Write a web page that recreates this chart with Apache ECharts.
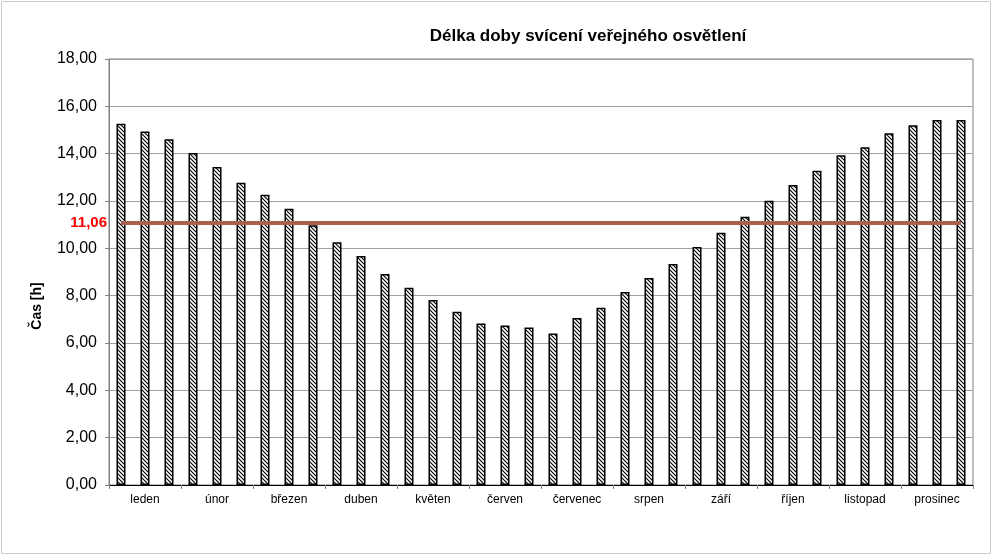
<!DOCTYPE html>
<html><head><meta charset="utf-8">
<script src="https://cdn.jsdelivr.net/npm/echarts@6/dist/echarts.min.js"></script>
<style>html,body{margin:0;padding:0;background:#fff}#c{width:994px;height:557px}</style>
</head><body><div id="c"></div>
<script>
const months = ['leden','únor','březen','duben','květen','červen','červenec','srpen','září','říjen','listopad','prosinec'];
const decades = ['1.','11.','21.'];
const hours = [15.26,14.94,14.61, 14.03,13.44,12.77, 12.26,11.67,10.98, 10.26,9.68,8.92,
               8.33,7.82,7.32, 6.82,6.74,6.66, 6.40,7.06,7.49, 8.16,8.75,9.34,
               10.06,10.66,11.33, 12.01,12.68,13.28, 13.93,14.27,14.86, 15.20,15.42,15.42];
const average = 11.06;
const yTicks = {min:0, max:18, interval:2};
const title = 'Délka doby svícení veřejného osvětlení';
const yName = 'Čas [h]';

const barCats = [];
months.forEach(m => decades.forEach(d => barCats.push(d + ' ' + m)));

// hatch pattern
const pc = document.createElement('canvas');
pc.width = 4; pc.height = 4;
const g = pc.getContext('2d');
g.fillStyle = '#fff'; g.fillRect(0,0,4,4);
g.strokeStyle = '#000'; g.lineWidth = 1.1;
g.beginPath();
g.moveTo(-1,-1); g.lineTo(5,5);
g.moveTo(-1,3); g.lineTo(1,5);
g.moveTo(3,-1); g.lineTo(5,1);
g.stroke();

const fmt = v => v.toFixed(2).replace('.', ',');
const FF = 'Liberation Sans, Arial, sans-serif';
const chart = echarts.init(document.getElementById('c'), null, {renderer:'canvas'});
chart.setOption({
  animation:false,
  backgroundColor:'#fff',
  textStyle:{fontFamily:FF},
  title:{text:title, left:583, top:23, textAlign:'center',
    textStyle:{fontSize:17, fontWeight:'bold', color:'#000', fontFamily:FF}},
  grid:{left:109, right:21, top:59, bottom:72, show:true, borderColor:'#808080', borderWidth:1, containLabel:false},
  xAxis:[
    {type:'category', data:barCats, boundaryGap:true,
     axisLine:{show:true, lineStyle:{color:'#000', width:1}},
     axisTick:{show:false}, axisLabel:{show:false}, splitLine:{show:false}},
    {type:'category', data:months, position:'bottom', boundaryGap:true,
     axisLine:{show:false},
     axisTick:{show:true, length:4, lineStyle:{color:'#808080'}},
     axisLabel:{show:true, color:'#000', fontSize:12, margin:9, interval:0},
     splitLine:{show:false}}
  ],
  yAxis:{type:'value', min:yTicks.min, max:yTicks.max, interval:yTicks.interval,
    axisLine:{show:true, lineStyle:{color:'#808080'}},
    axisTick:{show:true, inside:false, length:4, lineStyle:{color:'#808080'}},
    axisLabel:{formatter:fmt, color:'#000', fontSize:16, margin:12},
    splitLine:{show:true, lineStyle:{color:'#a0a0a0', width:1}}},
  graphic:[
    {type:'rect', shape:{x:1.5, y:1.5, width:989, height:552}, style:{fill:null, stroke:'#c8c8c8', lineWidth:1}, silent:true},
    {type:'text', x:37, y:306, rotation:Math.PI/2,
     style:{text:yName, font:'bold 14px Liberation Sans, Arial, sans-serif', fill:'#000', align:'center', verticalAlign:'middle'}}
  ],
  series:[{
    type:'bar', xAxisIndex:0, data:hours, barWidth:9,
    itemStyle:{color:{image:pc, repeat:'repeat'}, borderColor:'#000', borderWidth:1.5},
    markLine:{
      silent:true, symbol:['none','none'],
      lineStyle:{color:'#A8604F', width:4, type:'solid'},
      label:{show:true, position:'start', distance:14, formatter:fmt(average),
        color:'#ff0000', fontWeight:'bold', fontSize:15},
      data:[[{coord:[0, average]},{coord:[barCats.length-1, average]}]]
    }
  }]
});
</script></body></html>
